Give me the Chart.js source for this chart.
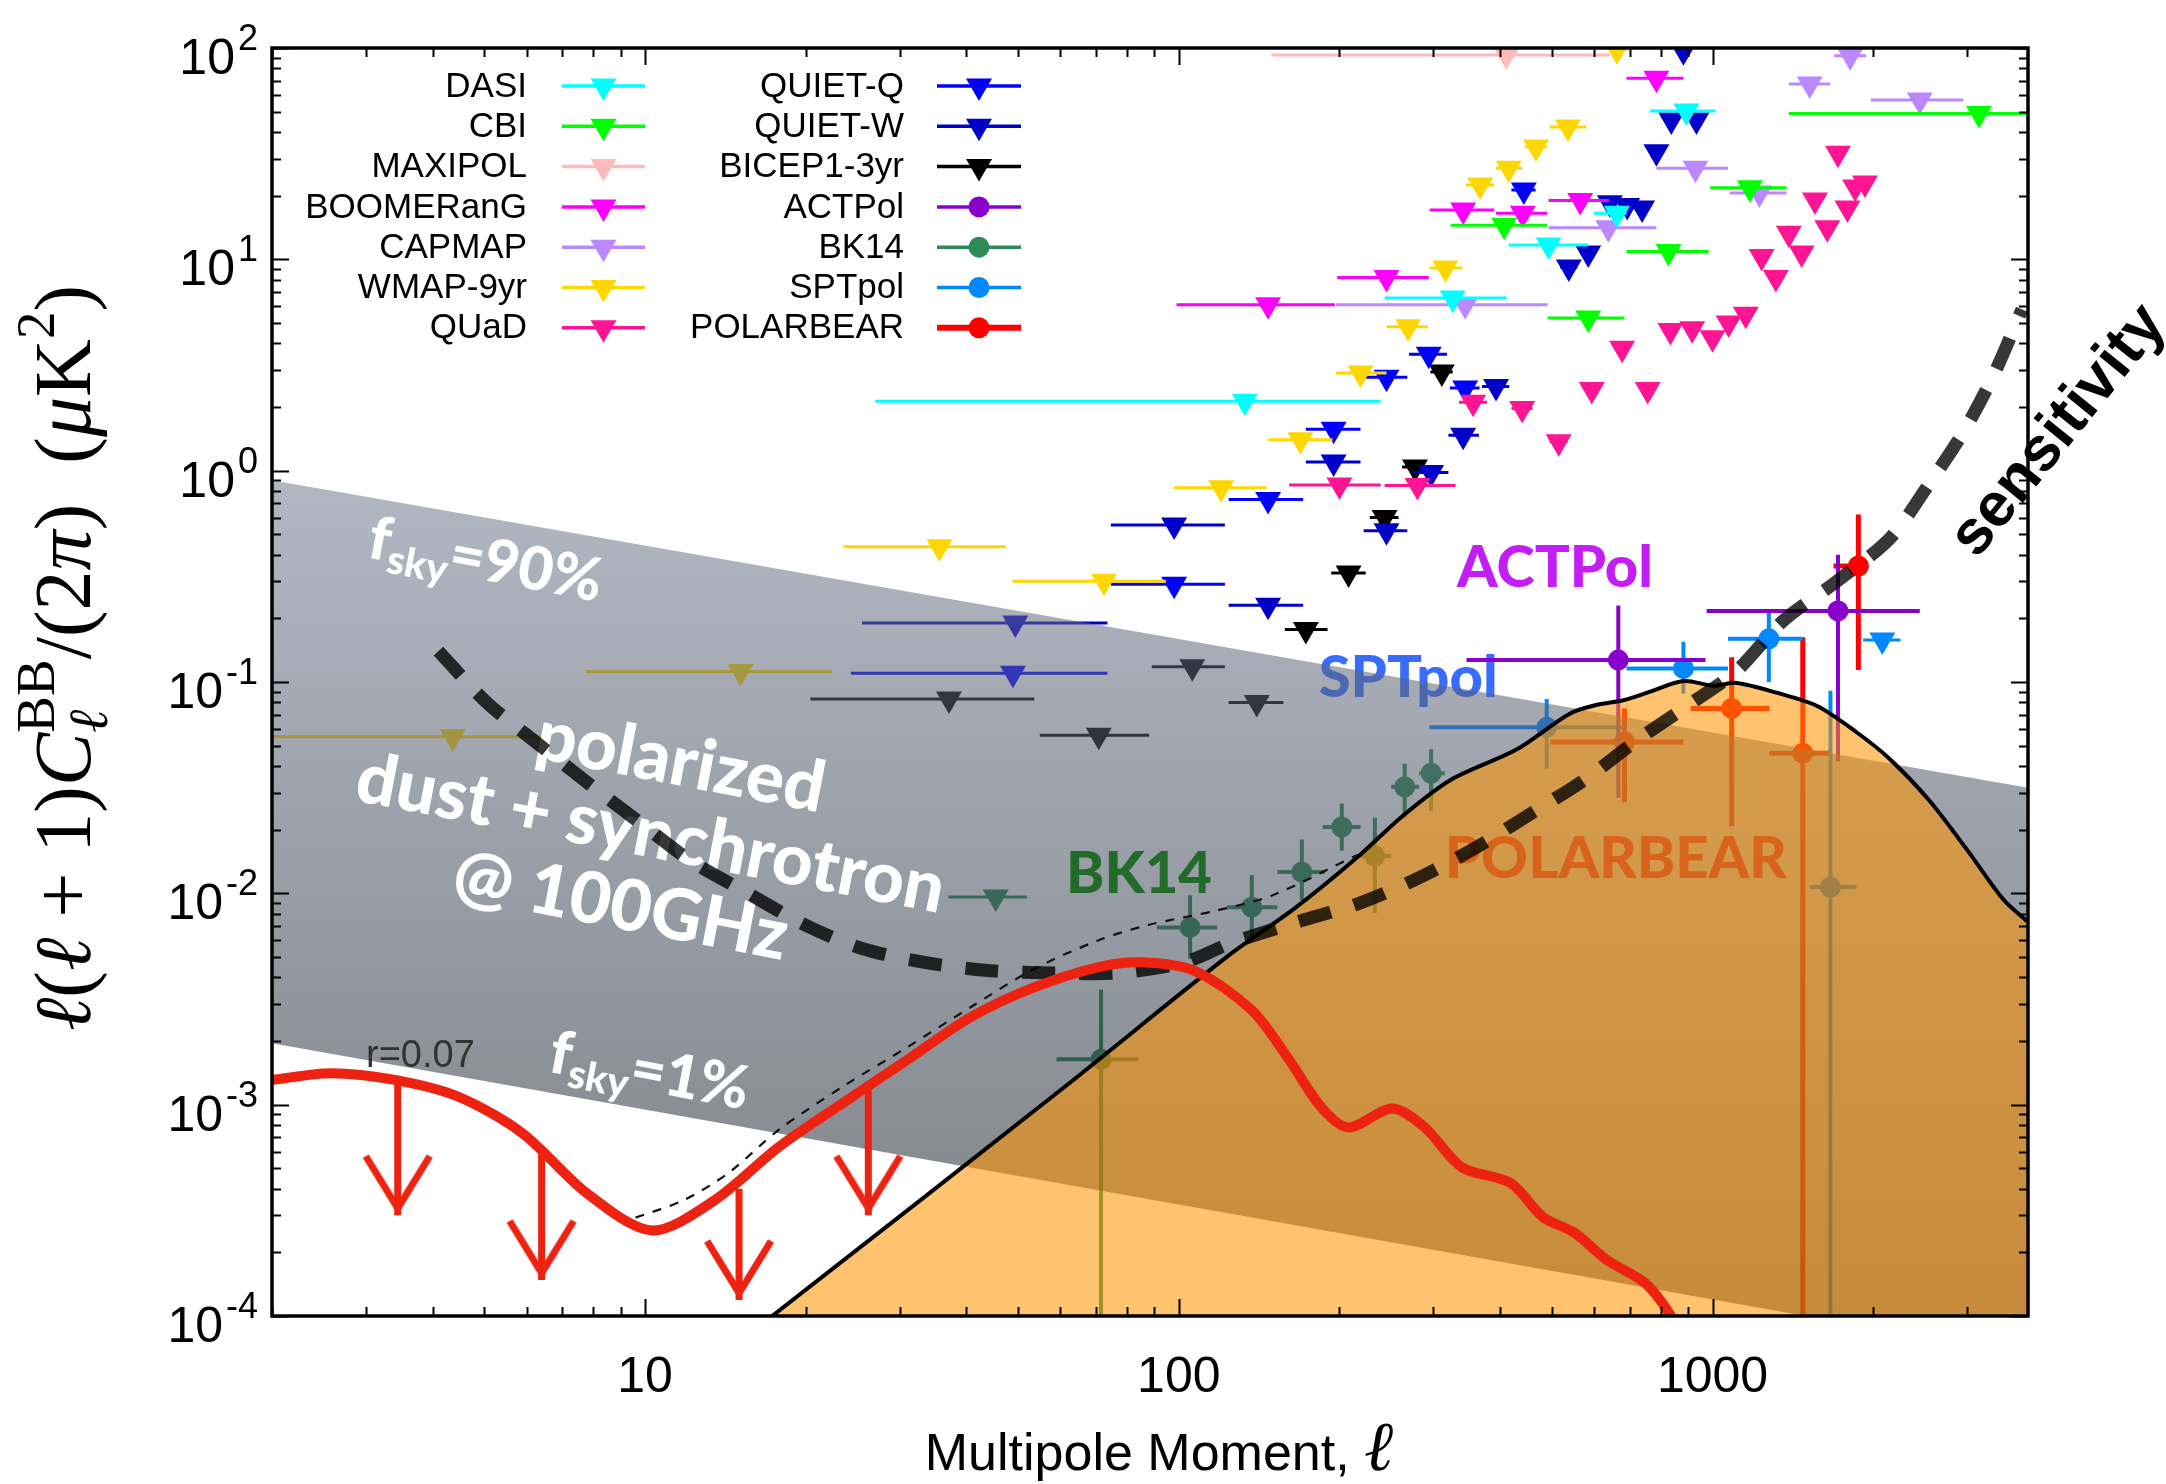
<!DOCTYPE html>
<html>
<head>
<meta charset="utf-8">
<title>B-mode power spectrum</title>
<script src="https://cdn.jsdelivr.net/npm/chart.js@4.4.1/dist/chart.umd.min.js"></script>
<style>
  html, body { margin: 0; padding: 0; background: #fff; }
  canvas { display: block; }
</style>
</head>
<body>
<canvas id="bbChart" width="2166" height="1484"></canvas>
<script>
// axes
var ellRange = [2, 3900];
var powRange = [1e-4, 100];
var ellTickValues = [10, 100, 1000];
var ellTickLabels = ['10', '100', '1000'];
var powTickValues = [1e-4, 1e-3, 1e-2, 1e-1, 1, 10, 100];
var powTickExps = ['-4', '-3', '-2', '-1', '0', '1', '2'];

// upper limits: bin centre, 95% limit, bin edges
var dasiEll = [133, 326, 493, 662, 893];
var dasiVal = [2.13, 6.56, 11.7, 16.5, 50.4];
var dasiLo  = [27, 243, 415, 600, 764];
var dasiHi  = [239, 411, 585, 690, 1013];

var cbiEll = [407, 585, 827, 1175, 3157];
var cbiVal = [14.5, 5.27, 10.9, 21.8, 49];
var cbiLo  = [323, 491, 690, 990, 1390];
var cbiHi  = [490, 684, 984, 1377, 6000];

var maxiEll = [411];
var maxiVal = [92.7];
var maxiLo  = [149];
var maxiHi  = [642];

var boomEll = [147, 245, 341, 441, 565, 785];
var boomVal = [6.1, 8.2, 17.1, 16.5, 19.0, 72];
var boomLo  = [99, 198, 295, 393, 493, 690];
var boomHi  = [196, 294, 390, 490, 640, 882];

var capEll = [344, 638, 929, 1224, 1521, 1811, 2445];
var capVal = [6.1, 14.1, 27, 20.6, 67.6, 92, 56.7];
var capLo  = [197, 493, 785, 1077, 1390, 1690, 1980];
var capHi  = [491, 785, 1069, 1377, 1662, 1940, 2950];

var wmapEll = [4.36, 15.1, 35.6, 72.4, 120, 169, 219, 269, 316, 367, 415, 467, 536, 662];
var wmapVal = [0.055, 0.112, 0.436, 0.30, 0.83, 1.40, 2.9, 4.8, 9.1, 22.5, 27, 34, 42.3, 98];
var wmapLo  = [2, 7.75, 23.5, 48.8, 98, 147, 197, 245, 295, 345, 393, 445, 495, 640];
var wmapHi  = [6.45, 22.4, 47.4, 94.6, 146, 194, 245, 293, 340, 390, 440, 490, 580, 690];

var quadEll = [200, 280, 356, 440, 515, 594, 677, 756, 834, 916, 1000, 1072, 1154, 1236, 1314, 1390, 1469, 1556, 1641, 1718, 1790, 1850, 1930];
var quadVal = [0.855, 0.85, 2.11, 1.97, 1.37, 2.42, 3.8, 2.42, 4.6, 4.7, 4.25, 5.0, 5.5, 10.3, 8.2, 13.3, 10.7, 19.1, 14.1, 31.8, 17.5, 22, 23];
var quadLo  = [161, 243, 335, 420, 495, 574, 657, 736, 814, 896, 980, 1052, 1134, 1216, 1294, 1370, 1449, 1536, 1621, 1698, 1770, 1830, 1910];
var quadHi  = [239, 330, 378, 460, 535, 614, 697, 776, 854, 936, 1020, 1092, 1174, 1256, 1334, 1410, 1489, 1576, 1661, 1738, 1810, 1870, 1950];

var qqEll = [48.9, 98, 147, 195, 245, 294, 344, 443];
var qqVal = [0.110, 0.29, 0.73, 1.57, 2.77, 3.56, 2.46, 21.3];
var qqLo  = [24.3, 74.6, 124, 173, 222, 270, 322, 420];
var qqHi  = [73.5, 122, 171, 219, 268, 318, 366, 466];

var qwEll = [49.4, 98, 147, 195, 245, 297, 341, 393, 538, 585, 642, 692, 738, 785, 837, 882, 933];
var qwVal = [0.19, 0.553, 0.231, 1.1, 0.52, 0.98, 1.47, 2.5, 9.2, 10.7, 18.5, 18, 17.5, 32.3, 45.6, 97, 45.6];
var qwLo  = [25.5, 74.6, 124, 173, 222, 275, 320, 370, 518, 565, 622, 672, 718, 765, 817, 862, 913];
var qwHi  = [73.5, 122, 171, 219, 268, 320, 365, 416, 558, 605, 662, 712, 758, 805, 857, 902, 953];

var bicepEll = [37.1, 70.8, 106, 140, 173, 208, 243, 277, 311];
var bicepVal = [0.083, 0.056, 0.118, 0.080, 0.177, 0.328, 0.60, 1.04, 2.93];
var bicepLo  = [20.4, 54.9, 89, 124, 158, 193, 228, 262, 296];
var bicepHi  = [53.6, 88, 122, 157, 190, 224, 258, 292, 326];

var sptLimEll = [2080];
var sptLimVal = [0.158];
var sptLimLo  = [1915];
var sptLimHi  = [2250];

var bkLimEll = [45.4];
var bkLimVal = [0.0096];
var bkLimLo  = [37];
var bkLimHi  = [52];

// detections: bin centre, value, bin edges, 1-sigma range
var actEll = [666, 1718];
var actVal = [0.127, 0.217];
var actLo  = [346, 975];
var actHi  = [970, 2445];
var actErrLo = [0.0283, 0.042];
var actErrHi = [0.23, 0.40];

var bkEll = [71.5, 105, 137, 170, 202, 233, 265, 297];
var bkVal = [0.00164, 0.0069, 0.0086, 0.0126, 0.0206, 0.015, 0.0319, 0.037];
var bkLo  = [59, 91, 123, 153, 186, 218, 250, 282];
var bkHi  = [84, 118, 153, 188, 219, 250, 282, 315];
var bkErrLo = [1e-6, 0.0049, 0.0061, 0.0093, 0.0159, 0.0081, 0.0228, 0.0245];
var bkErrHi = [0.0035, 0.0098, 0.0122, 0.018, 0.0266, 0.0228, 0.041, 0.048];

var sptEll = [489, 882, 1275, 1663];
var sptVal = [0.061, 0.116, 0.16, 0.0107];
var sptLo  = [295, 690, 1069, 1520];
var sptHi  = [680, 1069, 1474, 1860];
var sptErrLo = [0.039, 0.088, 0.10, 1e-6];
var sptErrHi = [0.083, 0.155, 0.22, 0.091];

var pbEll = [684, 1086, 1476, 1876];
var pbVal = [0.052, 0.075, 0.046, 0.354];
var pbLo  = [497, 910, 1278, 1685];
var pbHi  = [882, 1279, 1663, 1928];
var pbErrLo = [0.027, 0.0208, 1e-6, 0.114];
var pbErrHi = [0.075, 0.131, 0.163, 0.62];

// theory and model curves
var theoryEll = [2, 2.58, 3.4, 4.47, 5.89, 7.78, 10.3, 13.5, 17.8, 23.5, 31, 40.8, 53.7, 70.8, 85, 107, 137, 161, 185, 208, 251, 289, 339, 419, 481, 552, 634, 748, 830, 870];
var theoryVal = [0.00131, 0.00141, 0.00131, 0.00109, 0.000733, 0.000381, 0.000254, 0.000353, 0.00063, 0.00102, 0.00163, 0.0026, 0.0036, 0.00448, 0.00472, 0.0043, 0.0028, 0.00163, 0.00097, 0.00078, 0.00096, 0.00078, 0.000506, 0.000425, 0.000294, 0.000247, 0.000184, 0.000143, 0.000103, 0.00008];

var totalEll = [9.6, 11.8, 14.3, 17.8, 23.5, 31, 40.8, 53.7, 70.8, 88, 118, 150, 216];
var totalVal = [0.000292, 0.000353, 0.000473, 0.00076, 0.00122, 0.00187, 0.0029, 0.0044, 0.006, 0.0071, 0.0083, 0.0098, 0.0152];

var lensEll = [15, 17.3, 60, 123, 166, 216, 263, 323, 430, 541, 608, 681, 764, 882, 1005, 1110, 1318, 1570, 1859, 2153, 2548, 3030, 3500, 3900];
var lensVal = [7.6e-5, 1e-4, 0.00117, 0.005, 0.0086, 0.0148, 0.0233, 0.0344, 0.048, 0.071, 0.078, 0.082, 0.090, 0.101, 0.096, 0.099, 0.089, 0.077, 0.058, 0.043, 0.0275, 0.0155, 0.0094, 0.0073];

var sensEll = [4.1, 5.05, 6.3, 7.85, 9.8, 12.2, 15.6, 19.9, 25.4, 33.6, 44.4, 58.4, 76.9, 102, 125, 166, 216, 281, 361, 455, 575, 722, 910, 1110, 1354, 1711, 2153, 2540, 2954, 3363, 3800];
var sensVal = [0.14, 0.080, 0.051, 0.033, 0.0215, 0.0142, 0.0100, 0.0071, 0.0055, 0.0047, 0.0043, 0.0042, 0.0042, 0.0047, 0.0058, 0.0073, 0.0089, 0.0118, 0.0165, 0.0237, 0.0344, 0.053, 0.079, 0.113, 0.194, 0.30, 0.48, 0.86, 1.53, 2.84, 5.8];

// foreground band edges (fsky = 90% top, fsky = 1% bottom)
var bandEll = [2, 3900];
var band90 = [0.90, 0.0316];
var band1 = [0.00195, 6.5e-5];

// r = 0.07 limit arrows
var arrowEll = [3.44, 6.4, 15.0, 26.2];
var arrowTop = [0.00129, 0.00063, 0.00040, 0.00117];
var arrowTip = [0.00030, 0.000148, 0.000119, 0.00030];

// text tags placed in data coordinates
var tagText  = ['ACTPol', 'SPTpol', 'BK14', 'POLARBEAR'];
var tagEll   = [507, 269, 84.2, 659];
var tagVal   = [0.281, 0.0849, 0.01003, 0.01182];
var tagColor = ['#c41ef6', '#3a6cff', '#236b2a', '#d7641a'];
var tagOnTop = [false, false, true, true];

var limitSets = [
  { name: 'DASI', color: '#00ffff', ell: dasiEll, val: dasiVal, lo: dasiLo, hi: dasiHi },
  { name: 'CBI', color: '#00ff00', ell: cbiEll, val: cbiVal, lo: cbiLo, hi: cbiHi },
  { name: 'MAXIPOL', color: '#ffbbbb', ell: maxiEll, val: maxiVal, lo: maxiLo, hi: maxiHi },
  { name: 'BOOMERanG', color: '#ff00ff', ell: boomEll, val: boomVal, lo: boomLo, hi: boomHi },
  { name: 'CAPMAP', color: '#bb88ff', ell: capEll, val: capVal, lo: capLo, hi: capHi },
  { name: 'WMAP-9yr', color: '#ffd700', ell: wmapEll, val: wmapVal, lo: wmapLo, hi: wmapHi },
  { name: 'QUaD', color: '#ff1493', ell: quadEll, val: quadVal, lo: quadLo, hi: quadHi },
  { name: 'QUIET-Q', color: '#0000ff', ell: qqEll, val: qqVal, lo: qqLo, hi: qqHi },
  { name: 'QUIET-W', color: '#0000c8', ell: qwEll, val: qwVal, lo: qwLo, hi: qwHi },
  { name: 'BICEP1-3yr', color: '#000000', ell: bicepEll, val: bicepVal, lo: bicepLo, hi: bicepHi },
  { name: 'SPTpol limit', color: '#0088ff', ell: sptLimEll, val: sptLimVal, lo: sptLimLo, hi: sptLimHi },
  { name: 'BK14 limit', color: '#2e8b57', ell: bkLimEll, val: bkLimVal, lo: bkLimLo, hi: bkLimHi }
];

var detectSets = [
  { name: 'ACTPol', color: '#8800cc', width: 4, ell: actEll, val: actVal, lo: actLo, hi: actHi, eLo: actErrLo, eHi: actErrHi },
  { name: 'BK14', color: '#2e8b57', width: 4, ell: bkEll, val: bkVal, lo: bkLo, hi: bkHi, eLo: bkErrLo, eHi: bkErrHi },
  { name: 'SPTpol', color: '#0088ff', width: 4, ell: sptEll, val: sptVal, lo: sptLo, hi: sptHi, eLo: sptErrLo, eHi: sptErrHi },
  { name: 'POLARBEAR', color: '#ff0000', width: 5, ell: pbEll, val: pbVal, lo: pbLo, hi: pbHi, eLo: pbErrLo, eHi: pbErrHi }
];

var legendLeft = ['DASI', 'CBI', 'MAXIPOL', 'BOOMERanG', 'CAPMAP', 'WMAP-9yr', 'QUaD'];
var legendRight = ['QUIET-Q', 'QUIET-W', 'BICEP1-3yr', 'ACTPol', 'BK14', 'SPTpol', 'POLARBEAR'];

var RED = '#ee2211';
var SANS = '"Liberation Sans", Arial, sans-serif';
var SERIF = '"Liberation Serif", "DejaVu Serif", serif';
var GILL = 'Lato, "Open Sans", sans-serif';

function pts(ell, val) {
  return ell.map(function (l, i) { return { x: l, y: val[i] }; });
}
function hBars(ell, val, lo, hi) {
  var d = [];
  ell.forEach(function (l, i) {
    d.push({ x: lo[i], y: val[i] }, { x: hi[i], y: val[i] }, { x: hi[i], y: null });
  });
  return d;
}
function vBars(ell, eLo, eHi) {
  var d = [];
  ell.forEach(function (l, i) {
    d.push({ x: l, y: eLo[i] }, { x: l, y: eHi[i] }, { x: l, y: null });
  });
  return d;
}

// open red arrow head used as point style at the arrow tips
var arrowHead = document.createElement('canvas');
arrowHead.width = 76;
arrowHead.height = 124;
(function () {
  var ac = arrowHead.getContext('2d');
  ac.strokeStyle = RED;
  ac.lineWidth = 7;
  ac.lineJoin = 'miter';
  ac.beginPath();
  ac.moveTo(6, 3);
  ac.lineTo(38, 55);
  ac.lineTo(70, 3);
  ac.stroke();
})();

var datasets = [];

limitSets.forEach(function (s) {
  datasets.push({
    label: s.name + ' bins', data: hBars(s.ell, s.val, s.lo, s.hi),
    borderColor: s.color, borderWidth: 3, pointRadius: 0, fill: false, order: 10, clip: 0
  });
  datasets.push({
    label: s.name, data: pts(s.ell, s.val), showLine: false,
    pointStyle: 'triangle', pointRotation: 180, pointRadius: 15,
    pointBackgroundColor: s.color, pointBorderWidth: 0, order: 10, clip: 0
  });
});

detectSets.forEach(function (s) {
  datasets.push({
    label: s.name + ' errors', data: hBars(s.ell, s.val, s.lo, s.hi).concat(vBars(s.ell, s.eLo, s.eHi)),
    borderColor: s.color, borderWidth: s.width, pointRadius: 0, fill: false, order: 9, clip: 0
  });
  datasets.push({
    label: s.name, data: pts(s.ell, s.val), showLine: false,
    pointStyle: 'circle', pointRadius: 10.5,
    pointBackgroundColor: s.color, pointBorderWidth: 0, order: 9, clip: 0
  });
});

datasets.push({
  label: 'fsky90', data: pts(bandEll, band90),
  borderColor: 'rgba(0,0,0,0)', pointRadius: 0, fill: '+1', order: 5, clip: 0,
  backgroundColor: function (c) {
    var chart = c.chart;
    if (!chart.chartArea) return 'rgba(120,125,140,0.55)';
    var y = chart.scales.y;
    var g = chart.ctx.createLinearGradient(0, y.getPixelForValue(1), 0, y.getPixelForValue(1e-4));
    g.addColorStop(0, 'rgba(115,125,145,0.55)');
    g.addColorStop(1, 'rgba(20,25,35,0.55)');
    return g;
  }
});
datasets.push({
  label: 'fsky1', data: pts(bandEll, band1),
  borderColor: 'rgba(0,0,0,0)', pointRadius: 0, fill: false, order: 5, clip: 0
});
datasets.push({
  label: 'lensing', data: pts(lensEll, lensVal),
  borderColor: '#000', borderWidth: 4, pointRadius: 0, tension: 0.3,
  fill: 'start', backgroundColor: 'rgba(255,148,0,0.56)', order: 4, clip: 0
});
datasets.push({
  label: 'sensitivity', data: pts(sensEll, sensVal),
  borderColor: 'rgba(0,0,0,0.78)', borderWidth: 13, borderDash: [33, 24], borderCapStyle: 'butt',
  pointRadius: 0, tension: 0.3, fill: false, order: 3, clip: 0
});
datasets.push({
  label: 'total', data: pts(totalEll, totalVal),
  borderColor: '#111', borderWidth: 2.2, borderDash: [9, 9],
  pointRadius: 0, tension: 0.3, fill: false, order: 3, clip: 0
});
datasets.push({
  label: 'r=0.07', data: pts(theoryEll, theoryVal),
  borderColor: RED, borderWidth: 10, pointRadius: 0, tension: 0.3, fill: false, order: 2, clip: 0
});
var arrowData = [];
arrowEll.forEach(function (l, i) {
  arrowData.push({ x: l, y: arrowTop[i] }, { x: l, y: arrowTip[i], tip: true }, { x: l, y: null });
});
datasets.push({
  label: 'arrows', data: arrowData,
  borderColor: RED, borderWidth: 7, tension: 0, fill: false, order: 1, clip: 0,
  pointStyle: arrowHead,
  pointRadius: function (c) { return c.raw && c.raw.tip ? 6 : 0; }
});

// text helpers
function layoutParts(ctx, parts) {
  var x = 0, prevStart = 0, items = [];
  parts.forEach(function (p) {
    ctx.font = p.f;
    var w = ctx.measureText(p.t).width;
    var sx = p.over ? prevStart : x;
    items.push({ p: p, x: sx });
    if (p.over) { x = Math.max(x, sx + w); } else { prevStart = x; x += w; }
  });
  return { items: items, width: x };
}
function drawParts(ctx, x, y, angle, parts, color, align) {
  ctx.save();
  ctx.translate(x, y);
  ctx.rotate(angle);
  ctx.fillStyle = color;
  ctx.textBaseline = 'alphabetic';
  ctx.textAlign = 'left';
  var lay = layoutParts(ctx, parts);
  var x0 = align === 'left' ? 0 : (align === 'right' ? -lay.width : -lay.width / 2);
  lay.items.forEach(function (it) {
    ctx.font = it.p.f;
    ctx.fillText(it.p.t, x0 + it.x, it.p.dy || 0);
  });
  ctx.restore();
}

function drawTags(chart, onTop) {
  var ctx = chart.ctx, sx = chart.scales.x, sy = chart.scales.y;
  tagText.forEach(function (t, i) {
    if (tagOnTop[i] !== onTop) return;
    drawParts(ctx, sx.getPixelForValue(tagEll[i]), sy.getPixelForValue(tagVal[i]), 0,
      [{ t: t, f: '900 58px ' + GILL }], tagColor[i], 'center');
  });
}

function drawBandText(chart) {
  var ctx = chart.ctx, sx = chart.scales.x, sy = chart.scales.y;
  var ang = 0.19;
  var big = '900 60px ' + GILL, sub = '900 40px ' + GILL;
  drawParts(ctx, sx.getPixelForValue(5.03), sy.getPixelForValue(0.382), ang,
    [{ t: 'f', f: big, dy: 21 }, { t: 'sky', f: sub, dy: 32 }, { t: '=90%', f: big, dy: 21 }], '#fff', 'center');
  drawParts(ctx, sx.getPixelForValue(10.2), sy.getPixelForValue(0.00146), ang,
    [{ t: 'f', f: big, dy: 21 }, { t: 'sky', f: sub, dy: 32 }, { t: '=1%', f: big, dy: 21 }], '#fff', 'center');
  var fg = '900 71px ' + GILL;
  var cx = sx.getPixelForValue(10.26), cy = sy.getPixelForValue(0.0195);
  var lines = ['polarized', 'dust + synchrotron', '@ 100GHz'];
  var off = [-76, 0, 76];
  var shift = [16, 0, -16];
  lines.forEach(function (t, i) {
    var px = cx - Math.sin(ang) * off[i] + Math.cos(ang) * shift[i];
    var py = cy + Math.cos(ang) * off[i] + Math.sin(ang) * shift[i];
    drawParts(ctx, px, py, ang, [{ t: t, f: fg, dy: 25 }], '#fff', 'center');
  });
}

function drawAxes(chart) {
  var ctx = chart.ctx, a = chart.chartArea, sx = chart.scales.x, sy = chart.scales.y;
  ctx.save();
  ctx.strokeStyle = '#000';
  ctx.lineWidth = 2;
  ctx.beginPath();
  for (var k = 0; k <= 3; k++) {
    for (var m = 1; m <= 9; m++) {
      var v = m * Math.pow(10, k);
      if (v < ellRange[0] || v > ellRange[1]) continue;
      var x = Math.round(sx.getPixelForValue(v)) + 0.5;
      var len = m === 1 ? 17 : 9;
      ctx.moveTo(x, a.bottom); ctx.lineTo(x, a.bottom - len);
      ctx.moveTo(x, a.top); ctx.lineTo(x, a.top + len);
    }
  }
  for (k = -4; k <= 2; k++) {
    for (m = 1; m <= 9; m++) {
      v = m * Math.pow(10, k);
      if (v < powRange[0] * 0.999 || v > powRange[1] * 1.001) continue;
      var y = Math.round(sy.getPixelForValue(v)) + 0.5;
      len = m === 1 ? 17 : 9;
      ctx.moveTo(a.left, y); ctx.lineTo(a.left + len, y);
      ctx.moveTo(a.right, y); ctx.lineTo(a.right - len, y);
    }
  }
  ctx.stroke();
  ctx.lineWidth = 3.5;
  ctx.strokeRect(a.left, a.top, a.right - a.left, a.bottom - a.top);

  ctx.fillStyle = '#000';
  ctx.textBaseline = 'alphabetic';
  ctx.textAlign = 'center';
  ctx.font = '50px ' + SANS;
  ellTickValues.forEach(function (v, i) {
    ctx.fillText(ellTickLabels[i], sx.getPixelForValue(v), a.bottom + 76);
  });
  powTickValues.forEach(function (v, i) {
    var y = sy.getPixelForValue(v);
    ctx.textAlign = 'right';
    ctx.font = '36px ' + SANS;
    var ew = ctx.measureText(powTickExps[i]).width;
    ctx.fillText(powTickExps[i], a.left - 14, y + 2);
    ctx.font = '50px ' + SANS;
    ctx.fillText('10', a.left - 17 - ew, y + 26);
  });

  drawParts(ctx, 1159, 1470, 0,
    [{ t: 'Multipole Moment, ', f: '52px ' + SANS }, { t: 'ℓ', f: 'italic 70px ' + SERIF }], '#000', 'center');

  var big = '80px ' + SERIF, bigIt = 'italic 80px ' + SERIF, sm = '55px ' + SERIF, smIt = 'italic 55px ' + SERIF;
  drawParts(ctx, 90, 658, -Math.PI / 2, [
    { t: 'ℓ', f: bigIt }, { t: '(', f: big }, { t: 'ℓ', f: bigIt }, { t: ' + ', f: big }, { t: '1)', f: big },
    { t: 'C', f: bigIt }, { t: 'ℓ', f: smIt, dy: 17 }, { t: 'BB', f: sm, dy: -36, over: true },
    { t: '/(2', f: big }, { t: 'π', f: bigIt }, { t: ')  (', f: big }, { t: 'μ', f: bigIt }, { t: 'K', f: big },
    { t: '2', f: sm, dy: -36 }, { t: ')', f: big }
  ], '#000', 'center');

  drawParts(ctx, sx.getPixelForValue(3.0), sy.getPixelForValue(0.00151), 0,
    [{ t: 'r=0.07', f: '38px ' + SANS }], '#333', 'left');
  drawParts(ctx, sx.getPixelForValue(4383), sy.getPixelForValue(1.59), -0.89,
    [{ t: 'sensitivity', f: 'bold 62px ' + SANS, dy: 22 }], '#000', 'center');
  ctx.restore();
}

function legendMarker(ctx, kind, x, y, color) {
  ctx.fillStyle = color;
  ctx.beginPath();
  if (kind === 'tri') {
    var r = 15;
    ctx.moveTo(x, y + r);
    ctx.lineTo(x - 0.866 * r, y - 0.5 * r);
    ctx.lineTo(x + 0.866 * r, y - 0.5 * r);
    ctx.closePath();
  } else {
    ctx.arc(x, y, 10.5, 0, Math.PI * 2);
  }
  ctx.fill();
}

function drawLegend(chart) {
  var ctx = chart.ctx;
  var cols = [
    { names: legendLeft, textX: 527, lineX0: 562, lineX1: 645 },
    { names: legendRight, textX: 904, lineX0: 937, lineX1: 1021 }
  ];
  ctx.save();
  cols.forEach(function (col) {
    col.names.forEach(function (name, i) {
      var y = 86 + i * 40.3;
      var lim = limitSets.filter(function (s) { return s.name === name; })[0];
      var det = detectSets.filter(function (s) { return s.name === name; })[0];
      var color = (lim || det).color;
      ctx.fillStyle = '#000';
      ctx.font = '35px ' + SANS;
      ctx.textAlign = 'right';
      ctx.textBaseline = 'middle';
      ctx.fillText(name, col.textX, y + 1);
      ctx.strokeStyle = color;
      ctx.lineWidth = det && det.name === 'POLARBEAR' ? 6 : 3.5;
      ctx.beginPath();
      ctx.moveTo(col.lineX0, y);
      ctx.lineTo(col.lineX1, y);
      ctx.stroke();
      legendMarker(ctx, lim ? 'tri' : 'dot', (col.lineX0 + col.lineX1) / 2, y, color);
    });
  });
  ctx.restore();
}

var decor = {
  id: 'bbDecor',
  beforeDatasetsDraw: function (chart) { drawTags(chart, false); },
  afterDatasetDraw: function (chart, args) {
    if (chart.data.datasets[args.index].label === 'lensing') {
      drawBandText(chart);
      drawTags(chart, true);
    }
  },
  afterDraw: function (chart) {
    drawAxes(chart);
    drawLegend(chart);
  }
};

new Chart(document.getElementById('bbChart'), {
  type: 'line',
  data: { datasets: datasets },
  options: {
    responsive: false,
    animation: false,
    devicePixelRatio: 1,
    events: [],
    layout: { padding: { left: 272, right: 138, top: 48, bottom: 168 } },
    scales: {
      x: { type: 'logarithmic', min: ellRange[0], max: ellRange[1], display: false },
      y: { type: 'logarithmic', min: powRange[0], max: powRange[1], display: false }
    },
    plugins: {
      legend: { display: false },
      tooltip: { enabled: false },
      filler: { propagate: false }
    }
  },
  plugins: [decor]
});
</script>
</body>
</html>
